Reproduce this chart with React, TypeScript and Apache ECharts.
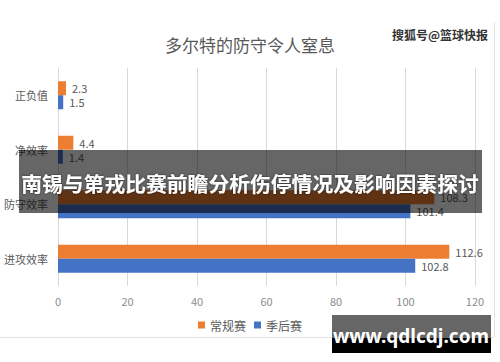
import React, { useEffect, useRef } from "react";
import * as echarts from "echarts";

const categories = ["正负值", "净效率", "防守效率", "进攻效率"];
const regularSeason = [2.3, 4.4, 108.3, 112.6];
const playoffs = [1.5, 1.4, 101.4, 102.8];
const seriesNames = ["常规赛", "季后赛"];
const xTicks = { min: 0, max: 120, interval: 20 };
const titleText = "多尔特的防守令人窒息";
const watermarkText = "搜狐号@篮球快报";
const bannerText = "南锡与第戎比赛前瞻分析伤停情况及影响因素探讨";
const siteText = "www.qdlcdj.com";

export default function App() {
  const ref = useRef<HTMLDivElement>(null);
  useEffect(() => {
    if (!ref.current) return;
    const chart = echarts.init(ref.current, null, { renderer: "svg" });
    const font = "'Noto Sans CJK SC', 'Noto Sans', sans-serif";
    const labelStyle = {
      show: true,
      position: "right" as const,
      distance: 6,
      color: "#595959",
      fontSize: 11,
      lineHeight: 12,
      fontFamily: font,
    };
    chart.setOption({
      animation: false,
      backgroundColor: "#ffffff",
      textStyle: { fontFamily: font },
      title: {
        text: titleText,
        left: "center",
        top: 31,
        textStyle: { color: "#595959", fontSize: 17, fontWeight: "normal", fontFamily: font },
      },
      legend: {
        data: seriesNames,
        left: "center",
        top: 314,
        icon: "rect",
        itemWidth: 7,
        itemHeight: 7,
        itemGap: 8,
        textStyle: { color: "#595959", fontSize: 12, fontFamily: font },
      },
      grid: { left: 58, right: 25, top: 68, bottom: 76, containLabel: false },
      xAxis: {
        type: "value",
        min: xTicks.min,
        max: xTicks.max,
        interval: xTicks.interval,
        axisLine: { show: false },
        axisTick: { show: false },
        axisLabel: { color: "#8c8c8c", fontSize: 11, margin: 9, fontFamily: font },
        splitLine: { lineStyle: { color: "#d9d9d9", width: 1 } },
      },
      yAxis: {
        type: "category",
        data: categories,
        inverse: true,
        axisLine: { show: true, lineStyle: { color: "#d9d9d9" } },
        axisTick: { show: false },
        axisLabel: { color: "#595959", fontSize: 11, margin: 10, fontFamily: font },
      },
      series: [
        {
          name: seriesNames[0],
          type: "bar",
          data: regularSeason,
          barWidth: 14,
          barGap: "0%",
          itemStyle: { color: "#ED7D31" },
          label: labelStyle,
        },
        {
          name: seriesNames[1],
          type: "bar",
          data: playoffs,
          barWidth: 14,
          barGap: "0%",
          itemStyle: { color: "#4472C4" },
          label: labelStyle,
        },
      ],
      graphic: [
        {
          type: "line",
          z: 90,
          shape: { x1: 0, y1: 337.5, x2: 494, y2: 337.5 },
          style: { stroke: "#e3e3e3", lineWidth: 1 },
        },
        {
          type: "line",
          z: 90,
          shape: { x1: 494.5, y1: 22, x2: 494.5, y2: 337 },
          style: { stroke: "#e3e3e3", lineWidth: 1 },
        },
        {
          type: "text",
          z: 100,
          left: 392,
          top: 28,
          style: {
            text: watermarkText,
            fill: "#333333",
            fontSize: 12,
            fontWeight: "bold",
            fontFamily: font,
          },
        },
        {
          type: "rect",
          z: 100,
          shape: { x: 19, y: 150, width: 463, height: 63 },
          style: { fill: "rgba(0,0,0,0.6)" },
        },
        {
          type: "text",
          z: 101,
          x: 250,
          y: 183,
          style: {
            text: bannerText,
            fill: "#ffffff",
            fontSize: 20.8,
            fontWeight: "bold",
            fontFamily: font,
            align: "center",
            verticalAlign: "middle",
            textShadowColor: "rgba(0,0,0,0.6)",
            textShadowBlur: 2,
          },
        },
        {
          type: "rect",
          z: 100,
          shape: { x: 332, y: 315, width: 159, height: 23 },
          style: { fill: "#666666" },
        },
        {
          type: "rect",
          z: 100,
          shape: { x: 332, y: 338, width: 159, height: 15 },
          style: { fill: "#000000" },
        },
        {
          type: "text",
          z: 101,
          x: 411,
          y: 336,
          style: {
            text: siteText,
            fill: "#ffffff",
            fontSize: 19,
            fontWeight: "bold",
            fontFamily: "'Noto Sans', sans-serif",
            align: "center",
            verticalAlign: "middle",
          },
        },
      ],
    });
    return () => chart.dispose();
  }, []);
  return (
    <div
      ref={ref}
      style={{ position: "fixed", left: 0, top: 0, width: 500, height: 362 }}
    />
  );
}
